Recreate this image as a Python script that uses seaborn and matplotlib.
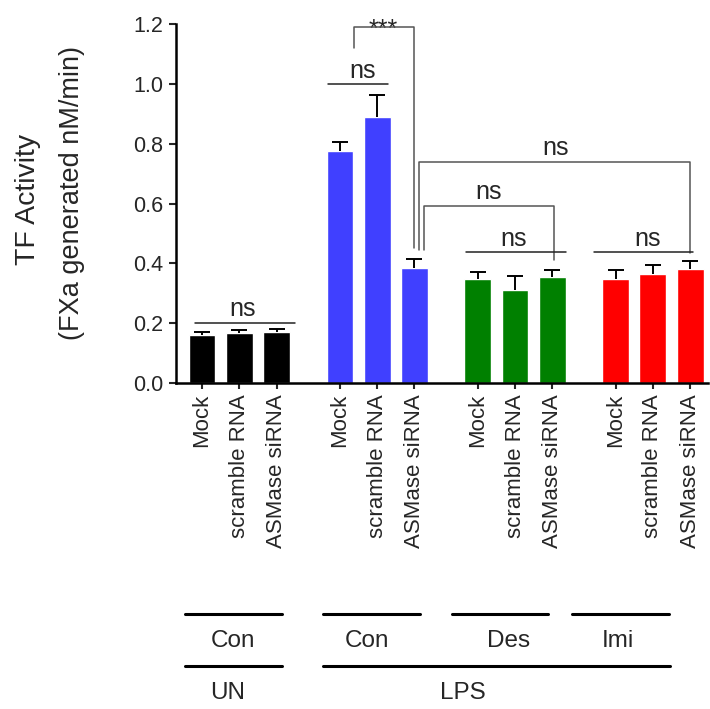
import numpy as np
import pandas as pd
import matplotlib
matplotlib.use('Agg')
import matplotlib.pyplot as plt
from matplotlib.lines import Line2D
import seaborn as sns

# ================= data =================
conditions = ['Mock', 'scramble RNA', 'ASMase siRNA']
groups = ['UN Con', 'LPS Con', 'LPS Des', 'LPS Imi']
group_colors = ['#000000', '#4040FF', '#008000', '#FF0000']

mean_un_con = [0.162, 0.166, 0.172]
mean_lps_con = [0.774, 0.889, 0.384]
mean_lps_des = [0.347, 0.310, 0.355]
mean_lps_imi = [0.347, 0.365, 0.381]

sem_un_con = [0.010, 0.012, 0.010]
sem_lps_con = [0.030, 0.074, 0.030]
sem_lps_des = [0.024, 0.049, 0.023]
sem_lps_imi = [0.031, 0.030, 0.028]

row_labels_top = ['Con', 'Con', 'Des', 'Imi']
row_labels_bottom = ['UN', 'LPS']
y_ticks = [0.0, 0.2, 0.4, 0.6, 0.8, 1.0, 1.2]

# ================= style =================
sns.set_style('ticks')
plt.rcParams['font.family'] = ['Liberation Sans', 'DejaVu Sans']

W, H = 710, 709
GROUP_STEP = 3.7

means = [mean_un_con, mean_lps_con, mean_lps_des, mean_lps_imi]
sems = [sem_un_con, sem_lps_con, sem_lps_des, sem_lps_imi]
rows = []
for g, name in enumerate(groups):
    for i, cond in enumerate(conditions):
        rows.append({'pos': g * GROUP_STEP + i, 'group': name, 'cond': cond,
                     'mean': means[g][i], 'sem': sems[g][i]})
df = pd.DataFrame(rows)

fig = plt.figure(figsize=(W / 100, H / 100), dpi=100)
ax = fig.add_axes([176 / W, 1 - 383 / H, (708 - 176) / W, (383 - 24) / H])

sns.barplot(data=df, x='pos', y='mean', hue='group', hue_order=groups,
            palette=group_colors, native_scale=True, width=0.72, dodge=False,
            errorbar=None, legend=False, saturation=1, ax=ax, zorder=2)

# upper-only SEM bars
eb = ax.errorbar(df['pos'], df['mean'], yerr=[np.zeros(len(df)), df['sem']],
                 fmt='none', ecolor='black', elinewidth=1.4, capsize=6,
                 capthick=1.4, zorder=3)
eb[1][0].set_visible(False)

ax.set_xlim(-0.7, 13.58)
ax.set_ylim(0, 1.2)
ax.set_yticks(y_ticks)
ax.set_yticklabels([f'{v:.1f}' for v in y_ticks], fontsize=15.5)
ax.set_xticks(df['pos'])
ax.set_xticklabels(df['cond'], rotation=90, fontsize=16)
ax.set_xlabel('')
ax.set_ylabel('')
ax.tick_params(axis='y', length=5, width=1.5, pad=4)
ax.tick_params(axis='x', length=4, width=1.5, pad=4)
for side in ['left', 'bottom']:
    ax.spines[side].set_linewidth(1.8)
    ax.spines[side].set_color('black')
sns.despine(ax=ax)

# ================= significance annotations =================
BR = '#555555'


def hline(x1, x2, y, label, tx, color='#222222'):
    ax.plot([x1, x2], [y, y], color=color, lw=1.1, clip_on=False, zorder=4)
    ax.text(tx, y + 0.004, label, ha='center', va='bottom', fontsize=18,
            clip_on=False)


def bracket(x1, x2, y, y1, y2, label, tx, ty=None, va='bottom', fs=18):
    ax.plot([x1, x1, x2, x2], [y1, y, y, y2], color=BR, lw=1.1,
            clip_on=False, zorder=4)
    ax.text(tx, y + 0.006 if ty is None else ty, label, ha='center', va=va,
            fontsize=fs, clip_on=False)


hline(-0.19, 2.50, 0.2017, 'ns', 1.10)
hline(3.38, 4.99, 1.0, 'ns', 4.31)
bracket(4.09, 5.69, 1.19, 1.12, 0.45, '***', 4.87, ty=1.157, va='baseline', fs=18)
bracket(5.81, 13.1, 0.74, 0.445, 0.434, 'ns', 9.48)
bracket(5.96, 9.45, 0.592, 0.445, 0.411, 'ns', 7.68)
hline(7.08, 9.76, 0.437, 'ns', 8.35)
hline(10.52, 13.18, 0.437, 'ns', 11.97)

# ================= axis title =================
fig.text(28 / W, 1 - 199 / H, 'TF Activity', rotation=90, fontsize=20.5,
         ha='center', va='center')
fig.text(72 / W, 1 - 193 / H, '(FXa generated nM/min)', rotation=90,
         fontsize=19.5, ha='center', va='center')

# ================= group labels below the axis =================
top_spans = [(185, 281.7), (323, 420), (451.7, 548), (571.7, 669)]
top_text_x = [233, 366.7, 509, 618]
bottom_spans = [(185, 281.7), (322.7, 670)]
bottom_text_x = [227.5, 463]

for (x1, x2) in top_spans:
    fig.add_artist(Line2D([x1 / W, x2 / W], [1 - 614.3 / H] * 2, lw=2.2,
                          color='black'))
for tx, lab in zip(top_text_x, row_labels_top):
    fig.text(tx / W, 1 - 641 / H, lab, ha='center', va='center', fontsize=17.5)
for (x1, x2) in bottom_spans:
    fig.add_artist(Line2D([x1 / W, x2 / W], [1 - 666 / H] * 2, lw=2.2,
                          color='black'))
for tx, lab in zip(bottom_text_x, row_labels_bottom):
    fig.text(tx / W, 1 - 693 / H, lab, ha='center', va='center', fontsize=17.5)

fig.savefig('out.png', dpi=100)
